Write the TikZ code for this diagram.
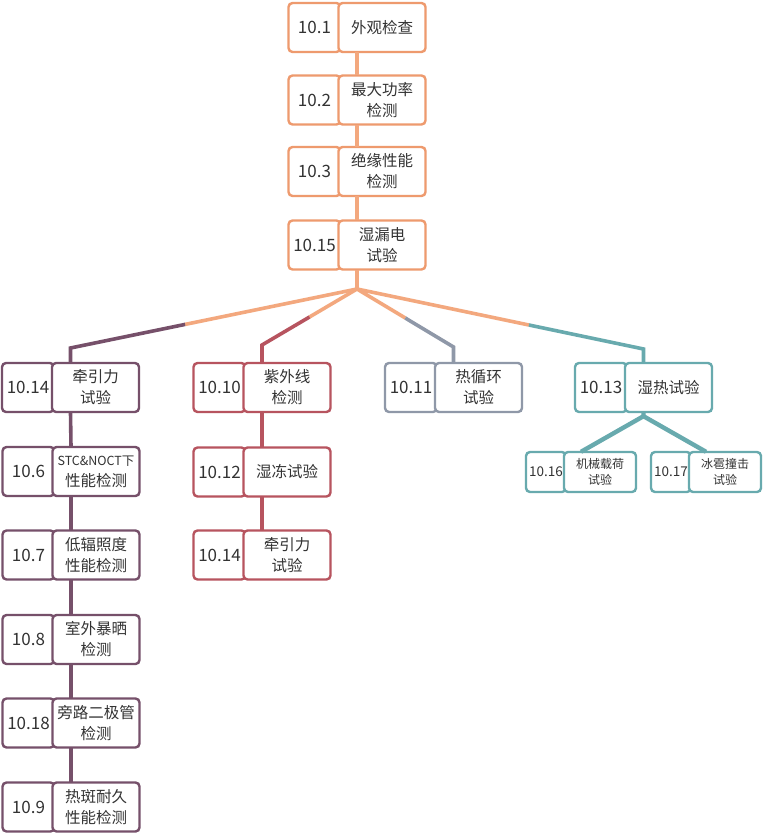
\documentclass[tikz,border=0pt]{standalone}
\usepackage{fontspec}
\newfontfamily\cjk{Noto Sans CJK SC}
\usetikzlibrary{calc}
\definecolor{boxorange}{HTML}{EE9A6E}
\definecolor{linkorange}{HTML}{F3A87E}
\definecolor{boxpurple}{HTML}{76506A}
\definecolor{boxred}{HTML}{B7545F}
\definecolor{boxgrey}{HTML}{8F98A8}
\definecolor{boxteal}{HTML}{68AAAE}
\definecolor{txtgrey}{HTML}{333333}
\tikzset{
  item/.style={minimum width=139pt, minimum height=49pt, inner sep=0pt},
  numpart/.style={draw=#1, line width=2.4pt, rounded corners=4pt, fill=white,
    minimum width=52pt, minimum height=49pt, inner sep=0pt, text=txtgrey,
    font=\cjk\fontsize{17}{20}\selectfont},
  txtpart/.style={numpart=#1, minimum width=87pt, align=center,
    font=\cjk\fontsize{15.5}{21}\selectfont},
  smallitem/.style={minimum width=112pt, minimum height=40pt, inner sep=0pt},
  smallnum/.style={numpart=#1, minimum width=40pt, minimum height=40pt,
    font=\cjk\fontsize{13.5}{16}\selectfont},
  smalltxt/.style={txtpart=#1, minimum width=72pt, minimum height=40pt,
    font=\cjk\fontsize{12}{15.5}\selectfont},
  link/.style={draw=#1, line width=3.6pt}
}
% #1 name, #2 centre, #3 number, #4 text, #5 colour
\newcommand{\testitem}[5]{%
  \node[item] (#1) at (#2) {};
  \node[numpart=#5, anchor=west] (#1-n) at (#1.west) {#3};
  \node[txtpart=#5, anchor=east] (#1-t) at (#1.east) {#4};
}
\newcommand{\smalltestitem}[5]{%
  \node[smallitem] (#1) at (#2) {};
  \node[smallnum=#5, anchor=west] (#1-n) at (#1.west) {#3};
  \node[smalltxt=#5, anchor=east] (#1-t) at (#1.east) {#4};
}
\begin{document}
\begin{tikzpicture}[x=1pt,y=-1pt]
  \useasboundingbox[fill=white] (0,0) rectangle (763,834);

  % main chain
  \testitem{b1}{357,27.5}{10.1}{外观检查}{boxorange}
  \testitem{b2}{357,100}{10.2}{最大功率\\检测}{boxorange}
  \testitem{b3}{357,171.5}{10.3}{绝缘性能\\检测}{boxorange}
  \testitem{b15}{357,245}{10.15}{湿漏电\\试验}{boxorange}
  \draw[link=linkorange] (b1.south) -- (b2.north);
  \draw[link=linkorange] (b2.south) -- (b3.north);
  \draw[link=linkorange] (b3.south) -- (b15.north);

  % second row
  \testitem{c14}{70.5,387.5}{10.14}{牵引力\\试验}{boxpurple}
  \testitem{c10}{262,387.5}{10.10}{紫外线\\检测}{boxred}
  \testitem{c11}{453.5,387.5}{10.11}{热循环\\试验}{boxgrey}
  \testitem{c13}{643.5,387.5}{10.13}{湿热试验}{boxteal}

  \coordinate (J) at (357,289);
  \coordinate (k14) at (c14.north |- 0,348);
  \coordinate (k10) at (c10.north |- 0,345);
  \coordinate (k11) at (c11.north |- 0,347);
  \coordinate (k13) at (c13.north |- 0,349);
  \draw[link=linkorange] (b15.south) -- (J);
  \draw[link=linkorange] (J) -- ($(J)!0.6!(k14)$);
  \draw[link=boxpurple] ($(J)!0.6!(k14)$) -- (k14) -- (c14.north);
  \draw[link=linkorange] (J) -- ($(J)!0.5!(k10)$);
  \draw[link=boxred] ($(J)!0.5!(k10)$) -- (k10) -- (c10.north);
  \draw[link=linkorange] (J) -- ($(J)!0.5!(k11)$);
  \draw[link=boxgrey] ($(J)!0.5!(k11)$) -- (k11) -- (c11.north);
  \draw[link=linkorange] (J) -- ($(J)!0.6!(k13)$);
  \draw[link=boxteal] ($(J)!0.6!(k13)$) -- (k13) -- (c13.north);

  % left column
  \testitem{l6}{71,471.5}{10.6}{{\fontsize{12.5}{15}\selectfont STC\&NOCT下}\\性能检测}{boxpurple}
  \testitem{l7}{71,555}{10.7}{低辐照度\\性能检测}{boxpurple}
  \testitem{l8}{71,639.5}{10.8}{室外暴晒\\检测}{boxpurple}
  \testitem{l18}{71,723}{10.18}{旁路二极管\\检测}{boxpurple}
  \testitem{l9}{71,807}{10.9}{热斑耐久\\性能检测}{boxpurple}
  \draw[link=boxpurple] (c14.south) -- (l6.north);
  \draw[link=boxpurple] (l6.south) -- (l7.north);
  \draw[link=boxpurple] (l7.south) -- (l8.north);
  \draw[link=boxpurple] (l8.south) -- (l18.north);
  \draw[link=boxpurple] (l18.south) -- (l9.north);

  % middle column
  \testitem{m12}{262,472}{10.12}{湿冻试验}{boxred}
  \testitem{m14}{262,555}{10.14}{牵引力\\试验}{boxred}
  \draw[link=boxred] (c10.south) -- (m12.north);
  \draw[link=boxred] (m12.south) -- (m14.north);

  % under 10.13
  \smalltestitem{s16}{581,472}{10.16}{机械载荷\\试验}{boxteal}
  \smalltestitem{s17}{706,472}{10.17}{冰雹撞击\\试验}{boxteal}
  \draw[link=boxteal, line width=4.4pt] (c13.south) -- ++(0,4) coordinate (T) -- (s16.north);
  \draw[link=boxteal, line width=4.4pt] (T) -- (s17.north);
\end{tikzpicture}
\end{document}
